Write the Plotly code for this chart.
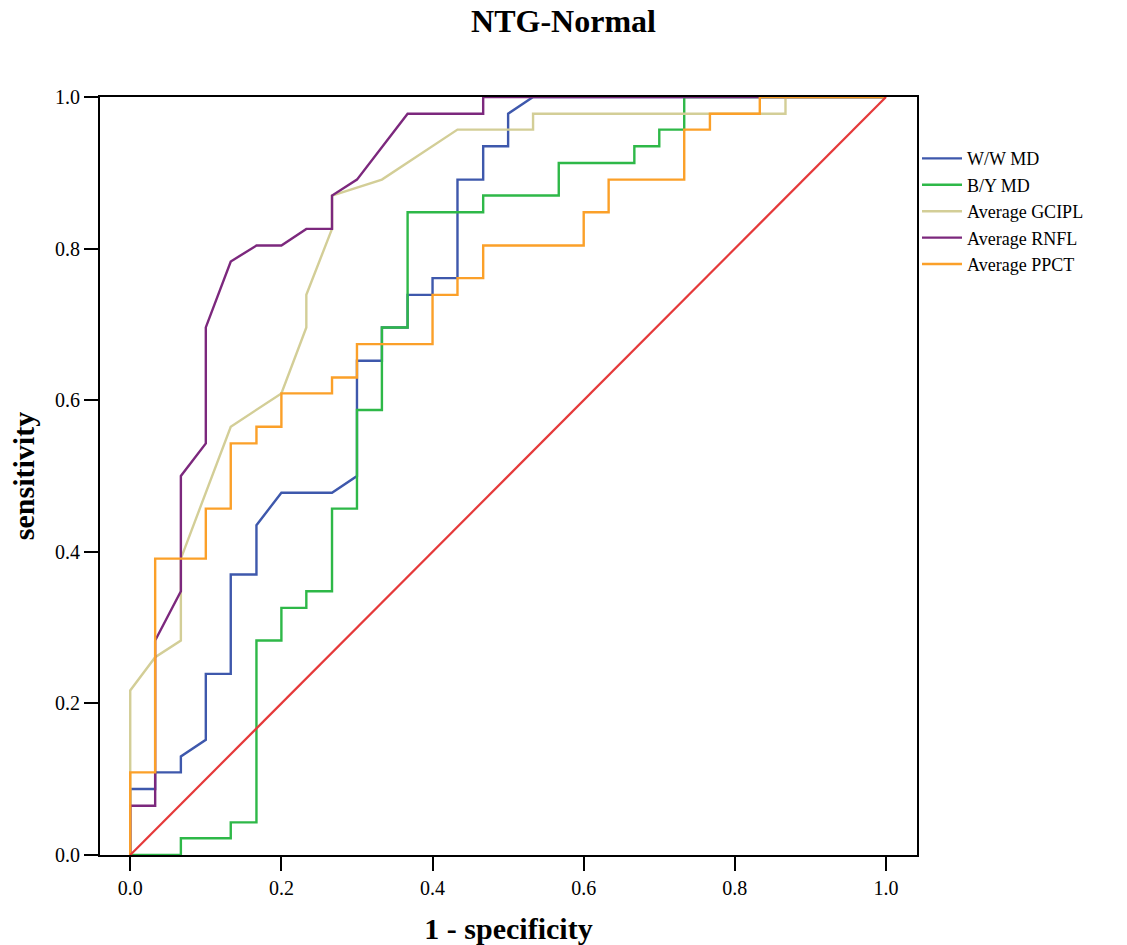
import plotly.graph_objects as go

# ROC curves: 1 - specificity (x) and sensitivity (y)
ww_x = [0, 0, 0.033, 0.033, 0.067, 0.067, 0.1, 0.1, 0.133, 0.133, 0.167, 0.167, 0.2, 0.267, 0.3, 0.3,
        0.333, 0.333, 0.367, 0.367, 0.4, 0.4, 0.433, 0.433, 0.467, 0.467, 0.5, 0.5, 0.533, 1]
ww_y = [0, 0.087, 0.087, 0.109, 0.109, 0.130, 0.152, 0.239, 0.239, 0.370, 0.370, 0.435, 0.478, 0.478, 0.5, 0.652,
        0.652, 0.696, 0.696, 0.739, 0.739, 0.761, 0.761, 0.891, 0.891, 0.935, 0.935, 0.978, 1, 1]

by_x = [0, 0.067, 0.067, 0.133, 0.133, 0.167, 0.167, 0.2, 0.2, 0.233, 0.233, 0.267, 0.267, 0.3, 0.3,
        0.333, 0.333, 0.367, 0.367, 0.467, 0.467, 0.567, 0.567, 0.667, 0.667, 0.7, 0.7, 0.733, 0.733, 1]
by_y = [0, 0, 0.022, 0.022, 0.043, 0.043, 0.283, 0.283, 0.326, 0.326, 0.348, 0.348, 0.457, 0.457, 0.587,
        0.587, 0.696, 0.696, 0.848, 0.848, 0.870, 0.870, 0.913, 0.913, 0.935, 0.935, 0.957, 0.957, 1, 1]

gcipl_x = [0, 0, 0.033, 0.067, 0.067, 0.133, 0.2, 0.233, 0.233, 0.267, 0.267, 0.333, 0.433, 0.533, 0.533, 0.867, 0.867, 1]
gcipl_y = [0, 0.217, 0.261, 0.283, 0.391, 0.565, 0.609, 0.696, 0.739, 0.826, 0.870, 0.891, 0.957, 0.957, 0.978, 0.978, 1, 1]

rnfl_x = [0, 0, 0.033, 0.033, 0.067, 0.067, 0.1, 0.1, 0.133, 0.167, 0.2, 0.233, 0.267, 0.267, 0.3, 0.367, 0.467, 0.467, 1]
rnfl_y = [0, 0.065, 0.065, 0.283, 0.348, 0.5, 0.543, 0.696, 0.783, 0.804, 0.804, 0.826, 0.826, 0.870, 0.891, 0.978, 0.978, 1, 1]

ppct_x = [0, 0, 0.033, 0.033, 0.1, 0.1, 0.133, 0.133, 0.167, 0.167, 0.2, 0.2, 0.267, 0.267, 0.3, 0.3, 0.4,
          0.4, 0.433, 0.433, 0.467, 0.467, 0.6, 0.6, 0.633, 0.633, 0.733, 0.733, 0.767, 0.767, 0.833, 0.833, 1]
ppct_y = [0, 0.109, 0.109, 0.391, 0.391, 0.457, 0.457, 0.543, 0.543, 0.565, 0.565, 0.609, 0.609, 0.630, 0.630, 0.674, 0.674,
          0.739, 0.739, 0.761, 0.761, 0.804, 0.804, 0.848, 0.848, 0.891, 0.891, 0.957, 0.957, 0.978, 0.978, 1, 1]

ref_x = [0, 1]
ref_y = [0, 1]

series = [
    ("W/W MD", ww_x, ww_y, "#3E58AC"),
    ("B/Y MD", by_x, by_y, "#2EB848"),
    ("Average GCIPL", gcipl_x, gcipl_y, "#D3CE97"),
    ("Average RNFL", rnfl_x, rnfl_y, "#7C287D"),
    ("Average PPCT", ppct_x, ppct_y, "#FBA029"),
]

tick_vals = [0, 0.2, 0.4, 0.6, 0.8, 1.0]
tick_text = ["0.0", "0.2", "0.4", "0.6", "0.8", "1.0"]

SERIF = "Liberation Serif, Times New Roman, serif"

fig = go.Figure()
for name, xs, ys, col in series:
    fig.add_trace(go.Scatter(x=xs, y=ys, mode="lines", name=name,
                             line=dict(color=col, width=2.4)))
fig.add_trace(go.Scatter(x=ref_x, y=ref_y, mode="lines", showlegend=False,
                         line=dict(color="#E5393A", width=2.2)))

axis_common = dict(showline=True, linecolor="black", linewidth=2, mirror=True,
                   ticks="outside", ticklen=14, tickwidth=2, tickcolor="black",
                   showgrid=False, zeroline=False, automargin=False,
                   tickvals=tick_vals, ticktext=tick_text,
                   tickfont=dict(family=SERIF, size=20, color="black"))

fig.update_layout(
    width=1127, height=945,
    paper_bgcolor="white", plot_bgcolor="white",
    margin=dict(l=100, r=210, t=97, b=90, autoexpand=False),
    title=dict(text="<b>NTG-Normal</b>", x=0.5, xref="container", xanchor="center",
               y=0.978, yanchor="middle",
               font=dict(family=SERIF, size=32, color="black")),
    xaxis=dict(range=[-0.04, 1.041], title=dict(text="<b>1 - specificity</b>", standoff=20,
               font=dict(family=SERIF, size=30, color="black")), **axis_common),
    yaxis=dict(range=[0, 1], title=dict(text="<b>sensitivity</b>", standoff=12,
               font=dict(family=SERIF, size=30, color="black")), **axis_common),
    legend=dict(x=1.0, xanchor="left", y=0.943, yanchor="top",
                font=dict(family=SERIF, size=18, color="black"),
                bgcolor="rgba(0,0,0,0)", itemwidth=40, tracegroupgap=0),
)

fig.write_html("out.html")
